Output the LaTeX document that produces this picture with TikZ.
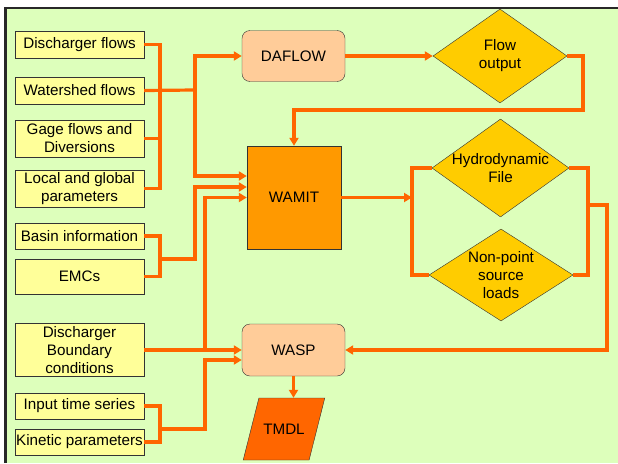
\documentclass[tikz,border=0pt]{standalone}
\usepackage{fontspec}
\setmainfont{Liberation Sans}
\usepackage{tikz}
\usetikzlibrary{arrows.meta,shapes.geometric}
\definecolor{bggreen}{RGB}{221,255,187}
\definecolor{inyellow}{RGB}{255,255,153}
\definecolor{pipe}{RGB}{255,102,0}
\definecolor{modelpeach}{RGB}{255,204,153}
\definecolor{wamitorange}{RGB}{255,153,0}
\definecolor{outgold}{RGB}{255,204,0}
\definecolor{framegray}{RGB}{40,40,40}

\begin{document}
\begin{tikzpicture}[x=1pt, y=-1pt,
  every node/.style={font=\fontsize{15.2}{18}\selectfont, inner sep=0pt},
  inbox/.style={draw=black!80, fill=inyellow, align=center, minimum width=129pt},
  model/.style={draw=black!80, fill=modelpeach, rounded corners=8pt,
    minimum width=103pt, minimum height=51pt},
  dia/.style={diamond, draw=black!80, fill=outgold},
  flow/.style={draw=pipe, line width=3.2pt},
  arr/.style={flow, -{Triangle[length=8pt,width=9pt]}}]
\useasboundingbox (0,0) rectangle (618,463);
\fill[bggreen] (5,8) rectangle (618,463);
\draw[framegray, line width=2.4pt] (5.5,463) -- (5.5,8) -- (618,8);

\node[inbox, minimum height=27pt] (dflows) at (79.5,44.5) {Discharger flows};
\node[inbox, minimum height=27pt] (wflows) at (79.5,90.5) {Watershed flows};
\node[inbox, minimum height=37pt] (gage) at (79.5,138.5) {Gage flows and\\Diversions};
\node[inbox, minimum height=37pt] (local) at (79.5,188.5) {Local and global\\parameters};
\node[inbox, minimum height=26pt] (basin) at (79.5,236) {Basin information};
\node[inbox, minimum height=35pt] (emcs) at (79.5,276.5) {EMCs};
\node[inbox, minimum height=53pt] (dbound) at (79.5,350) {Discharger\\Boundary\\conditions};
\node[inbox, minimum height=26pt] (input) at (79.5,406) {Input time series};
\node[inbox, minimum height=26pt] (kinetic) at (79.5,442) {Kinetic parameters};

\node[model] (daflow) at (293.5,56) {DAFLOW};
\node[draw=black!80, fill=wamitorange, minimum width=94pt, minimum height=103pt] (wamit) at (294,197.5) {WAMIT};
\node[model, minimum height=52pt] (wasp) at (293.5,350) {WASP};
\node[trapezium, trapezium left angle=39, trapezium right angle=141, trapezium stretches=true,
  draw=black!80, fill=pipe, minimum width=82pt, minimum height=62pt] (tmdl) at (284,429) {TMDL};

\node[dia, minimum width=134pt, minimum height=94pt,
  label={[align=center]center:Flow\\output}] (flowout) at (500,56) {};
\node[dia, minimum width=137pt, minimum height=98pt,
  label={[align=center]center:Hydrodynamic\\File}] (hydro) at (500.5,168) {};
\node[dia, minimum width=144pt, minimum height=92pt,
  label={[align=center]center:Non-point\\source\\loads}] (nonpt) at (501,275) {};

\coordinate (busA) at (160,90);
\coordinate (splitA) at (195,90);
\coordinate (busB) at (160,259);
\coordinate (bendB) at (195,259);
\coordinate (splitC) at (205,350);
\coordinate (busD) at (160,429);
\coordinate (bendD) at (205,429);
\coordinate (retA) at (583,110);
\coordinate (busE) at (412,197.5);
\coordinate (busF) at (588,205);
\coordinate (retB) at (607,205);

\draw[flow] (dflows.east) -| (busA) |- (local.east);
\draw[flow] (gage.east) -- (gage.east -| busA);
\draw[flow] (wflows.east) -- (splitA);
\draw[arr] (splitA) |- (daflow.west);
\draw[arr] (splitA) |- ([yshift=21.5pt]wamit.west);
\draw[flow] (basin.east) -| (busB) |- (emcs.east);
\draw[arr] (busB) -- (bendB) |- ([yshift=10.5pt]wamit.west);
\draw[arr] (dbound.east) -- (wasp.west);
\draw[arr] (splitC) |- (wamit.west);
\draw[flow] (input.east) -| (busD) |- (kinetic.east);
\draw[arr] (busD) -- (bendD) |- ([yshift=-10pt]wasp.west);
\draw[arr] (daflow.east) -- (flowout.west);
\draw[arr] (flowout.east) -| (retA) -| (wamit.north);
\draw[arr] (wamit.east) -- (busE);
\draw[flow] (hydro.west) -| (busE) |- (nonpt.west);
\draw[flow] (hydro.east) -| (busF) |- (nonpt.east);
\draw[arr] (busF) -- (retB) |- (wasp.east);
\draw[arr] (wasp.south) -- (wasp.south |- tmdl.north);
\end{tikzpicture}
\end{document}
